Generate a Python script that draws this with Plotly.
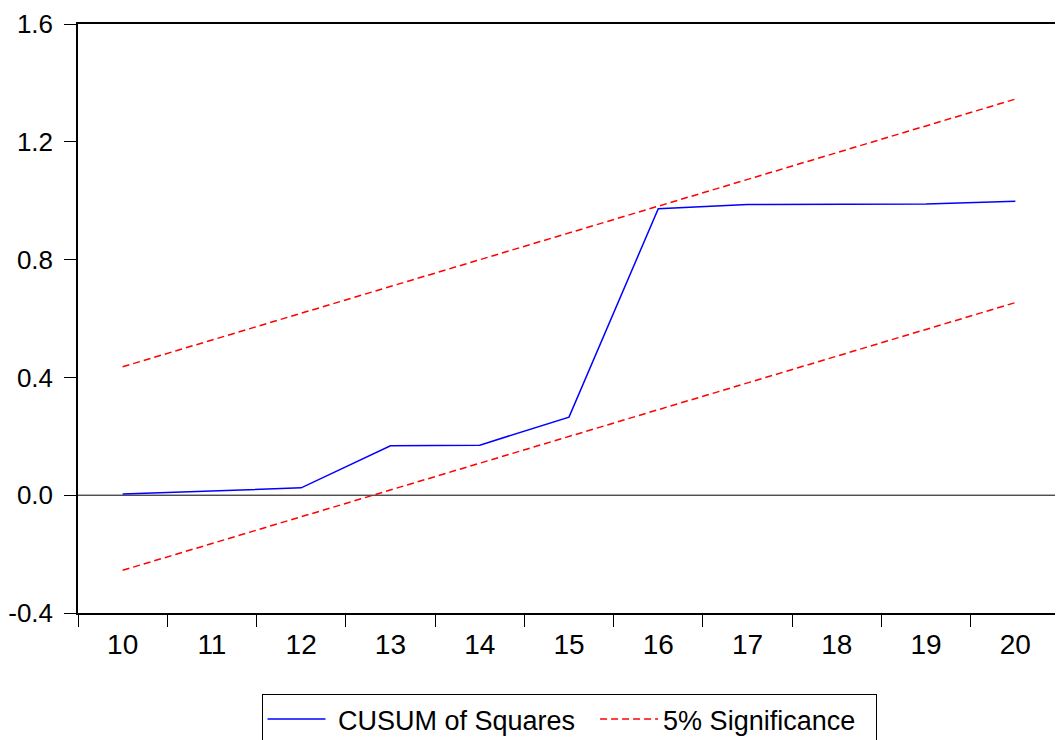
import plotly.graph_objects as go

periods = ["10", "11", "12", "13", "14", "15", "16", "17", "18", "19", "20"]
cusum_sq = [0.004, 0.015, 0.025, 0.168, 0.170, 0.265, 0.973, 0.987, 0.987, 0.989, 0.998]
upper_5 = [0.436, 0.527, 0.618, 0.709, 0.800, 0.891, 0.982, 1.073, 1.164, 1.254, 1.345]
lower_5 = [-0.255, -0.164, -0.073, 0.018, 0.109, 0.200, 0.291, 0.382, 0.473, 0.564, 0.654]
y_ticks = [-0.4, 0.0, 0.4, 0.8, 1.2, 1.6]
y_labels = ["-0.4", "0.0", "0.4", "0.8", "1.2", "1.6"]

NB = "\u00a0"
fig = go.Figure()
fig.add_trace(go.Scatter(x=periods, y=cusum_sq, mode="lines",
                         name=NB + "CUSUM of Squares" + NB * 2,
                         line=dict(color="#0000ff", width=1.5)))
fig.add_trace(go.Scatter(x=periods, y=upper_5, mode="lines",
                         name="5% Significance" + NB * 2,
                         line=dict(color="#ff0000", width=1.5, dash="7px,4px")))
fig.add_trace(go.Scatter(x=periods, y=lower_5, mode="lines", name="5% Significance",
                         showlegend=False,
                         line=dict(color="#ff0000", width=1.5, dash="7px,4px")))

fig.add_shape(type="line", xref="paper", yref="y", x0=0, x1=1, y0=0, y1=0,
              line=dict(color="black", width=1), layer="below")

# page body has an 8px margin, so the figure is sized/offset to compensate
fig.update_layout(
    width=1055, height=732,
    margin=dict(l=70, r=3, t=16, b=127, autoexpand=False),
    paper_bgcolor="white", plot_bgcolor="white",
    font=dict(family="Liberation Sans, Arial, sans-serif", size=27, color="black"),
    showlegend=True,
    legend=dict(orientation="h", x=0.5, xanchor="center", y=-0.1375, yanchor="top",
                bordercolor="black", borderwidth=1, bgcolor="white",
                font=dict(size=27), itemwidth=58, tracegroupgap=0),
    xaxis=dict(type="category", range=[-0.5, 10.5], tickson="boundaries",
               ticks="outside", ticklen=12, tickcolor="black", tickwidth=1,
               showline=True, linecolor="black", linewidth=1.5, mirror=True,
               showgrid=False, zeroline=False, tickfont=dict(size=28),
               automargin=False, ticklabelstandoff=6),
    yaxis=dict(range=[-0.4, 1.6], tickvals=y_ticks, ticktext=y_labels,
               ticks="outside", ticklen=12, tickcolor="black", tickwidth=1,
               showline=True, linecolor="black", linewidth=1.5, mirror=True,
               showgrid=False, zeroline=False, tickfont=dict(size=26),
               automargin=False, ticklabelstandoff=6),
)

fig.write_html("out.html")
